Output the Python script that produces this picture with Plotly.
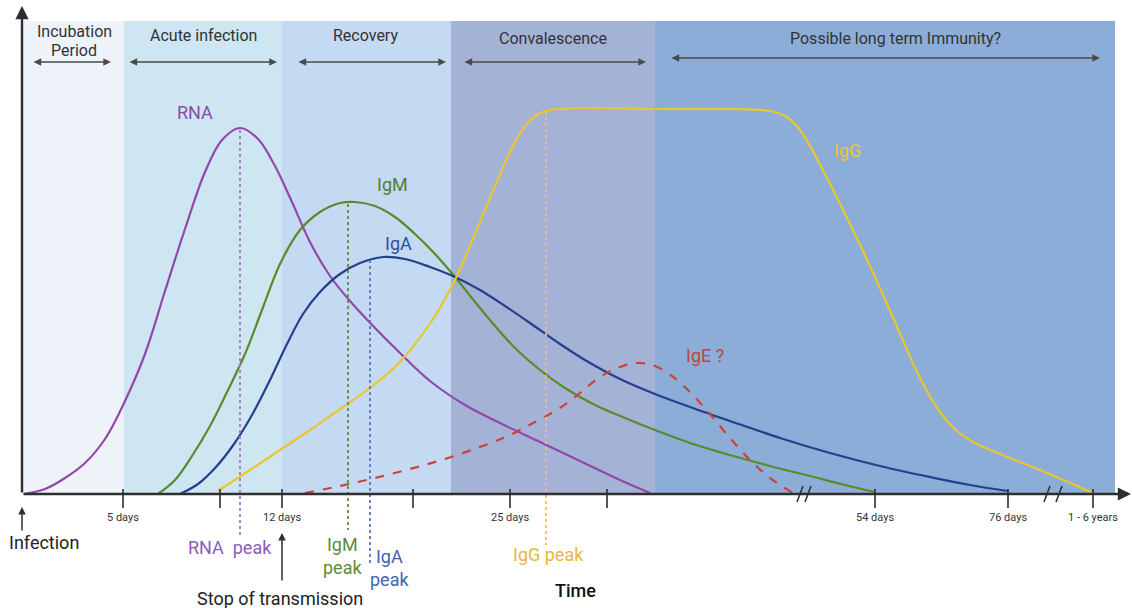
import plotly.graph_objects as go

# ---------------- data (x = timeline position, y = level above baseline) ----------------
phase_names = ["Incubation", "Acute infection", "Recovery", "Convalescence",
               "Possible long term Immunity?"]
phase_sub = ["Period", "", "", "", ""]
phase_start = [22, 124, 282, 451, 655]
phase_end = [124, 282, 451, 655, 1115]
phase_colors = ["#eef3fa", "#cde6f2", "#c4daf2", "#a4b2d6", "#8badd7"]
phase_label_x = [74, 203, 365, 553, 895]
phase_label_y = [463, 459, 459, 456, 456]
phase_sub_y = [444, 0, 0, 0, 0]
phase_arrow_start = [32, 128, 297, 463, 670]
phase_arrow_end = [111, 277, 446, 646, 1100]
phase_arrow_y = [432, 432, 432, 432, 436]

tick_x = [123, 220, 282, 413, 510, 607, 875, 1008, 1093]
tick_labels = ["5 days", "", "12 days", "", "25 days", "", "54 days", "76 days", "1 - 6 years"]
break_x = [800, 808, 1047, 1059]

rna_x = [24, 45, 65, 85, 105, 125, 145, 165, 185, 205, 222, 240, 258, 275, 292, 310, 330, 350, 375, 400, 430, 465, 500, 540, 580, 620, 650]
rna_y = [0, 5, 16, 31, 55, 93, 140, 203, 265, 322, 354, 366, 355, 328, 292, 252, 218, 193, 166, 141, 113, 89, 71, 52, 33, 14, 1]

igm_x = [158, 175, 192, 210, 228, 245, 262, 280, 300, 320, 340, 355, 375, 395, 415, 435, 455, 475, 495, 515, 540, 565, 595, 625, 655, 690, 730, 770, 810, 845, 875]
igm_y = [0, 14, 38, 68, 104, 140, 184, 230, 264, 282, 291, 292, 288, 277, 260, 240, 217, 192, 168, 146, 124, 106, 89, 76, 64, 51, 39, 28, 18, 9, 2]

iga_x = [180, 198, 216, 234, 252, 270, 287, 303, 320, 340, 360, 383, 405, 430, 455, 480, 505, 530, 560, 590, 620, 655, 690, 730, 780, 830, 880, 930, 970, 1008]
iga_y = [0, 10, 27, 50, 79, 114, 150, 180, 202, 220, 231, 237, 235, 227, 217, 204, 188, 171, 150, 131, 115, 100, 87, 73, 56, 41, 28, 17, 9, 3]

igg_x = [218, 250, 280, 310, 340, 370, 395, 415, 435, 455, 475, 495, 512, 525, 540, 560, 660, 770, 785, 800, 825, 847, 870, 895, 920, 940, 957, 975, 1000, 1040, 1093]
igg_y = [3, 24, 44, 64, 85, 106, 127, 150, 178, 214, 260, 308, 346, 368, 381, 385, 385, 383, 378, 364, 320, 276, 228, 172, 116, 82, 63, 51, 40, 24, 1]

ige_x = [305, 340, 375, 410, 445, 480, 510, 535, 560, 580, 600, 620, 638, 655, 672, 690, 710, 730, 750, 770, 793]
ige_y = [1, 8, 16, 25, 35, 47, 59, 72, 86, 101, 117, 127, 131, 128, 118, 102, 80, 56, 34, 16, 1]

peak_names = ["RNA", "IgM", "IgA", "IgG"]
peak_x = [240, 348, 370, 546]
peak_top = [364, 290, 234, 383]
peak_bottom = [-43, -36, -69, -51]
peak_colors = ["#a679cc", "#5f8d3c", "#5c74bb", "#f2c634"]
peak_label_text = ["RNA  peak", "IgM<br>peak", "IgA<br>peak", "IgG peak"]
peak_label_x = [230, 342, 389, 548]
peak_label_y = [-53, -62, -74, -60]
peak_label_colors = ["#8b5bbb", "#5d8a3a", "#3f63ad", "#eab735"]

series_names = ["RNA", "IgM", "IgA", "IgG", "IgE ?"]
series_colors = ["#9447aa", "#5a8a2c", "#253f8c", "#eac62e", "#c9433a"]
label_colors = ["#8a4aab", "#557d30", "#2f4f96", "#ebc43a", "#c2443b"]
label_x = [195, 392, 398, 847, 705]
label_y = [382, 310, 251, 344, 139]

FONT = "Roboto"
AX = "#2e2e2e"

fig = go.Figure()

# curves
curves = [(rna_x, rna_y), (igm_x, igm_y), (iga_x, iga_y), (igg_x, igg_y), (ige_x, ige_y)]
for i, (cx, cy) in enumerate(curves):
    fig.add_trace(go.Scatter(
        x=cx, y=cy, mode="lines", name=series_names[i],
        line=dict(color=series_colors[i], width=2.2, shape="spline", smoothing=1.0,
                  dash="dash" if i == 4 else "solid"),
        hoverinfo="skip", showlegend=False))

# peak dotted lines
for i in range(len(peak_x)):
    fig.add_trace(go.Scatter(
        x=[peak_x[i], peak_x[i]], y=[peak_top[i], peak_bottom[i]], mode="lines",
        line=dict(color=peak_colors[i], width=1.8, dash="dot"),
        hoverinfo="skip", showlegend=False))

shapes = []
# phase bands
for i in range(len(phase_names)):
    shapes.append(dict(type="rect", xref="x", yref="y", x0=phase_start[i], x1=phase_end[i],
                       y0=0, y1=473, fillcolor=phase_colors[i], line=dict(width=0), layer="below"))
# ticks
for tx in tick_x:
    shapes.append(dict(type="line", xref="x", yref="y", x0=tx, x1=tx, y0=5, y1=-14,
                       line=dict(color=AX, width=1.6)))
# axis breaks
for bx in break_x:
    shapes.append(dict(type="line", xref="x", yref="y", x0=bx - 3, x1=bx + 3, y0=-8, y1=8,
                       line=dict(color=AX, width=1.6)))

annotations = []
# axes arrows
annotations.append(dict(x=1131, y=0, ax=22, ay=0, xref="x", yref="y", axref="x", ayref="y",
                        text="", showarrow=True, arrowhead=2, arrowsize=1.1, arrowwidth=2.4,
                        arrowcolor=AX))
annotations.append(dict(x=22, y=488, ax=22, ay=0, xref="x", yref="y", axref="x", ayref="y",
                        text="", showarrow=True, arrowhead=2, arrowsize=1.1, arrowwidth=2.4,
                        arrowcolor=AX))
# phase labels and double arrows
for i in range(len(phase_names)):
    annotations.append(dict(x=phase_label_x[i], y=phase_label_y[i], xref="x", yref="y",
                            text=phase_names[i], showarrow=False,
                            font=dict(family=FONT, size=16, color="#333333")))
    if phase_sub[i]:
        annotations.append(dict(x=phase_label_x[i], y=phase_sub_y[i], xref="x", yref="y",
                                text=phase_sub[i], showarrow=False,
                                font=dict(family=FONT, size=16, color="#333333")))
    annotations.append(dict(x=phase_arrow_end[i], y=phase_arrow_y[i], ax=phase_arrow_start[i],
                            ay=phase_arrow_y[i], xref="x", yref="y", axref="x", ayref="y",
                            text="", showarrow=True, arrowhead=2, startarrowhead=2,
                            arrowside="end+start", arrowsize=1.1, startarrowsize=1.1,
                            arrowwidth=1.4, arrowcolor="#4a4a4a"))
# tick labels
for tx, tl in zip(tick_x, tick_labels):
    if tl:
        annotations.append(dict(x=tx, y=-23, xref="x", yref="y", text=tl, showarrow=False,
                                font=dict(family=FONT, size=11, color="#333333")))
# curve labels
for i in range(len(series_names)):
    annotations.append(dict(x=label_x[i], y=label_y[i], xref="x", yref="y", text=series_names[i],
                            showarrow=False, font=dict(family=FONT, size=18, color=label_colors[i])))
# peak labels
for i in range(len(peak_names)):
    annotations.append(dict(x=peak_label_x[i], y=peak_label_y[i], xref="x", yref="y",
                            text=peak_label_text[i], showarrow=False,
                            font=dict(family=FONT, size=18, color=peak_label_colors[i])))
# event markers
annotations.append(dict(x=22, y=-13, ax=22, ay=-38, xref="x", yref="y", axref="x", ayref="y",
                        text="", showarrow=True, arrowhead=2, arrowsize=1, arrowwidth=1.5,
                        arrowcolor=AX))
annotations.append(dict(x=44, y=-48, xref="x", yref="y", text="Infection", showarrow=False,
                        font=dict(family=FONT, size=18, color="#222222")))
annotations.append(dict(x=282, y=-39, ax=282, ay=-88, xref="x", yref="y", axref="x", ayref="y",
                        text="", showarrow=True, arrowhead=2, arrowsize=1, arrowwidth=1.5,
                        arrowcolor=AX))
annotations.append(dict(x=280, y=-104, xref="x", yref="y", text="Stop of transmission",
                        showarrow=False, font=dict(family=FONT, size=18, color="#222222")))
annotations.append(dict(x=575, y=-96, xref="x", yref="y", text="Time", showarrow=False,
                        font=dict(family=FONT, size=18, color="#111111", weight=500)))

fig.update_layout(
    width=1132, height=608, margin=dict(l=0, r=0, t=0, b=0),
    paper_bgcolor="white", plot_bgcolor="white",
    xaxis=dict(range=[0, 1132], visible=False, fixedrange=True),
    yaxis=dict(range=[-114, 494], visible=False, fixedrange=True),
    shapes=shapes, annotations=annotations, showlegend=False,
)

fig.write_html("out.html", config={"displayModeBar": False},
               post_script="document.body.style.margin='0';document.body.style.overflow='hidden';")
